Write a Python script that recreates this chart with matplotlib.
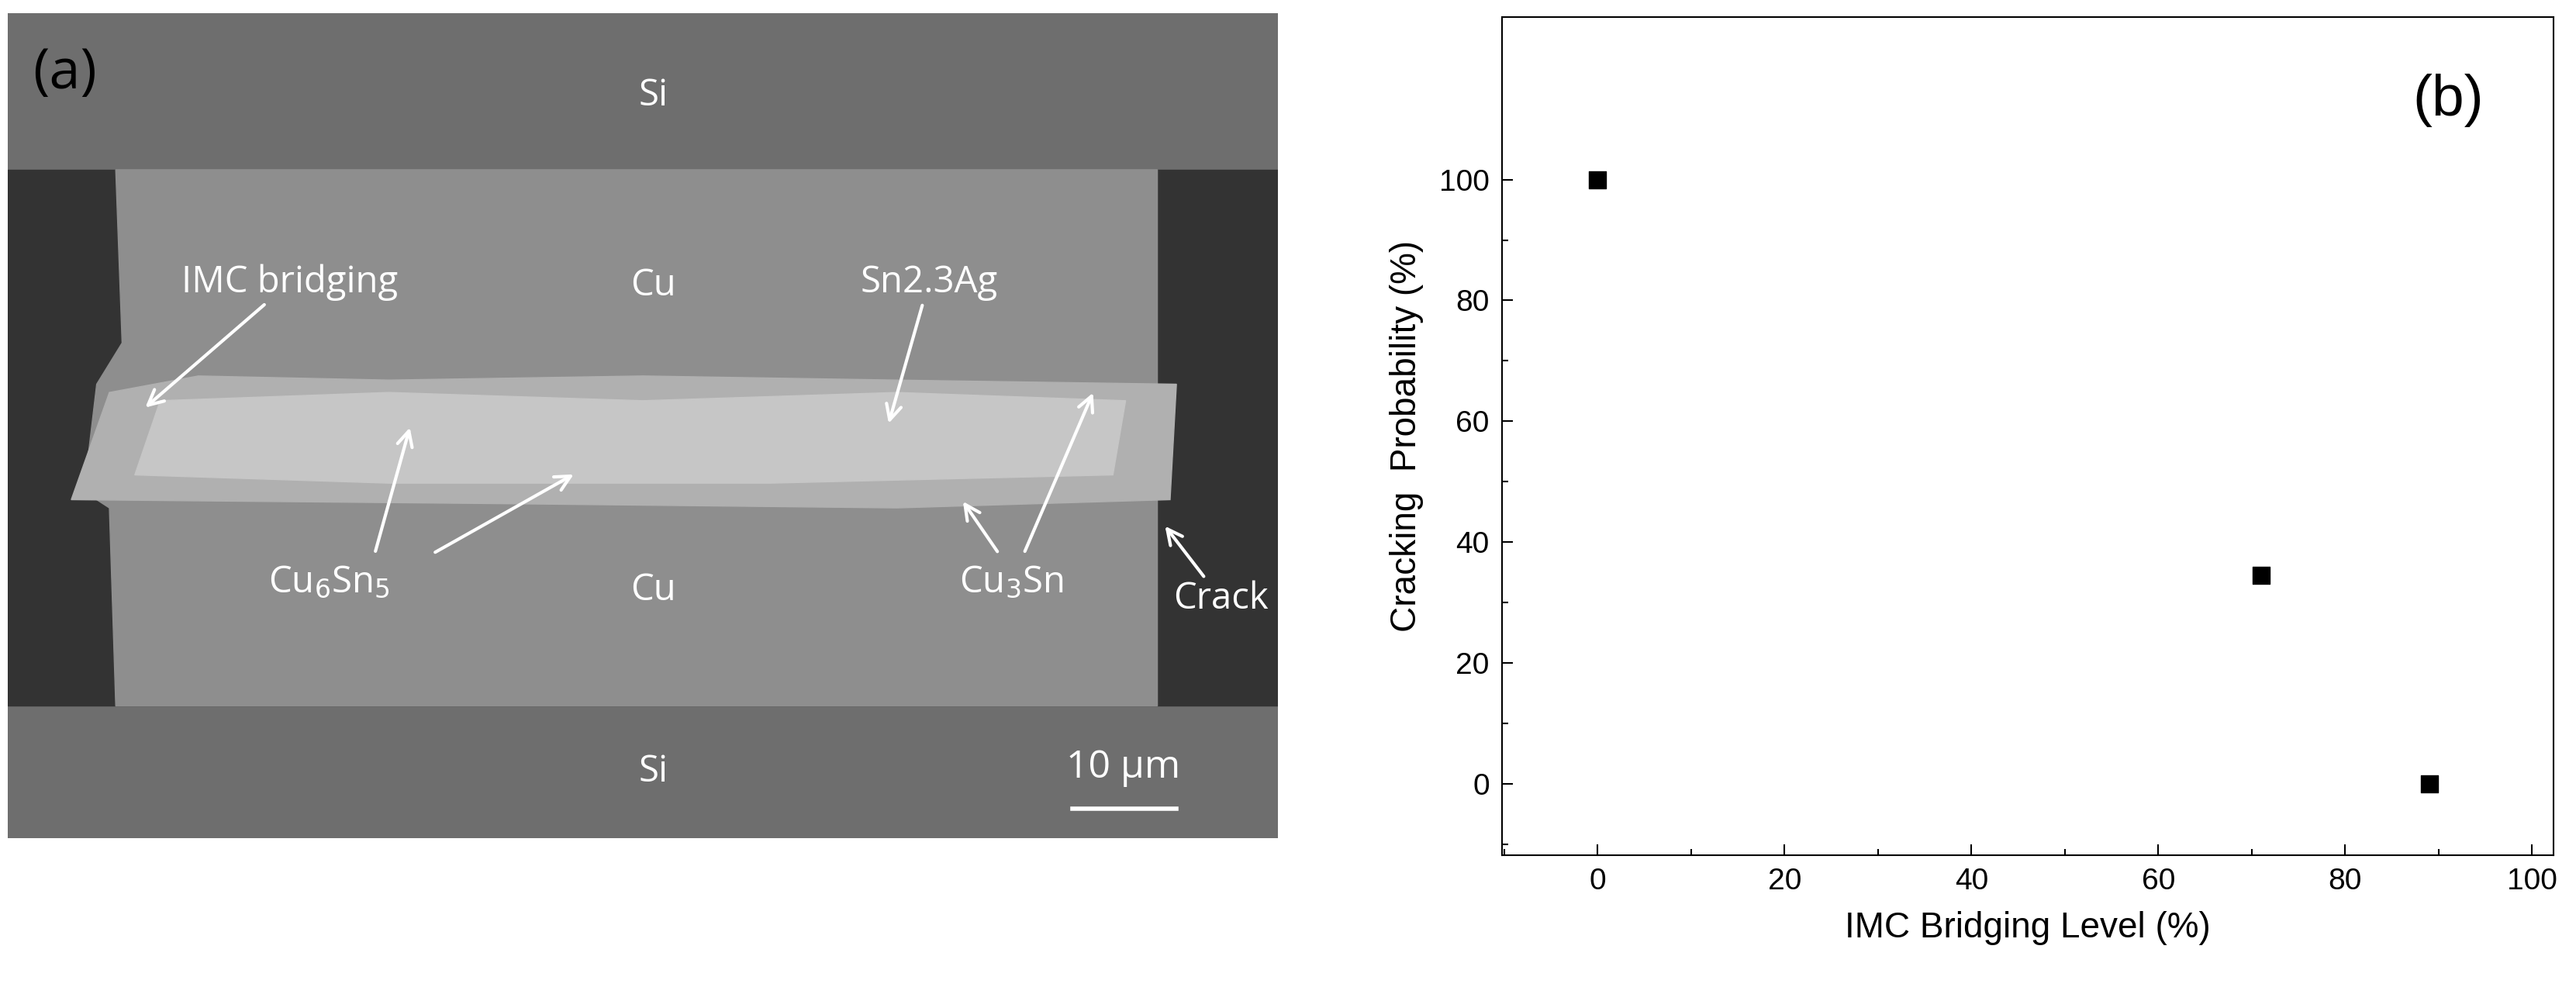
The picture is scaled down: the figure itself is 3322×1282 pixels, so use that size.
import matplotlib
matplotlib.use("Agg")
import matplotlib.pyplot as plt
from matplotlib.patches import Rectangle, Polygon
import numpy as np

bridging_level = [0, 71, 89]
cracking_prob = [100, 34.5, 0]
xticks = [0, 20, 40, 60, 80, 100]
yticks = [0, 20, 40, 60, 80, 100]

plt.rcParams['font.family'] = ['Open Sans', 'DejaVu Sans']
fig = plt.figure(figsize=(33.23, 12.82), dpi=100)

# ---- panel (a): schematic of SEM cross-section ----
axa = fig.add_axes([0.003, 0.157, 0.493, 0.830])
axa.set_xlim(0, 1); axa.set_ylim(1, 0); axa.axis('off')
axa.add_patch(Rectangle((0, 0), 1, 1, color='#4a4a4a'))
axa.add_patch(Rectangle((0, 0), 1, 0.19, color='#6e6e6e'))
axa.add_patch(Rectangle((0, 0.84), 1, 0.16, color='#6e6e6e'))
axa.add_patch(Rectangle((0, 0.19), 1, 0.65, color='#333333'))
axa.add_patch(Polygon([(0.085, 0.19), (0.905, 0.19), (0.905, 0.84), (0.085, 0.84),
                       (0.08, 0.6), (0.06, 0.58), (0.07, 0.45), (0.09, 0.4)], color='#8e8e8e'))
axa.add_patch(Polygon([(0.05, 0.59), (0.08, 0.46), (0.15, 0.44), (0.3, 0.445), (0.5, 0.44),
                       (0.7, 0.445), (0.92, 0.45), (0.915, 0.59), (0.7, 0.6), (0.4, 0.595)],
                      color='#b0b0b0'))
axa.add_patch(Polygon([(0.1, 0.56), (0.12, 0.47), (0.3, 0.46), (0.5, 0.47), (0.7, 0.46),
                       (0.88, 0.47), (0.87, 0.56), (0.6, 0.57), (0.3, 0.57)], color='#c6c6c6'))
tk = dict(color='white', fontsize=34, ha='center', va='center')
axa.text(0.045, 0.074, '(a)', color='black', fontsize=52, ha='center', va='center')
axa.text(0.508, 0.10, 'Si', **tk)
axa.text(0.508, 0.33, 'Cu', **tk)
axa.text(0.508, 0.70, 'Cu', **tk)
axa.text(0.508, 0.92, 'Si', **tk)
ap = dict(arrowstyle='->', color='white', lw=3, mutation_scale=35)
axa.annotate('IMC bridging', xy=(0.107, 0.48), xytext=(0.222, 0.327), arrowprops=ap, **tk)
axa.annotate('Sn2.3Ag', xy=(0.693, 0.5), xytext=(0.725, 0.327), arrowprops=ap, **tk)
axa.text(0.253, 0.69, r'Cu$_6$Sn$_5$', **tk)
axa.annotate('', xy=(0.317, 0.5), xytext=(0.289, 0.655), arrowprops=ap)
axa.annotate('', xy=(0.447, 0.558), xytext=(0.335, 0.655), arrowprops=ap)
axa.text(0.79, 0.69, r'Cu$_3$Sn', **tk)
axa.annotate('', xy=(0.751, 0.59), xytext=(0.78, 0.655), arrowprops=ap)
axa.annotate('', xy=(0.855, 0.458), xytext=(0.80, 0.655), arrowprops=ap)
axa.annotate('Crack', xy=(0.91, 0.62), xytext=(0.955, 0.71), arrowprops=ap, **tk)
axa.text(0.878, 0.915, '10 μm', color='white', fontsize=36, ha='center', va='center')
axa.plot([0.838, 0.92], [0.965, 0.965], color='white', lw=4)

# ---- panel (b) ----
axb = fig.add_axes([0.583, 0.14, 0.408, 0.843])
axb.scatter(bridging_level, cracking_prob, marker='s', s=250, color='black', zorder=3)
axb.set_xlim(-10.2, 102.3)
axb.set_ylim(-11.7, 126.9)
axb.set_xticks(xticks); axb.set_yticks(yticks)
axb.set_xticks(np.arange(-10, 101, 10), minor=True)
axb.set_yticks(np.arange(-10, 101, 10), minor=True)
axb.tick_params(which='both', direction='in', labelsize=28, width=1.5)
axb.tick_params(which='major', length=10, pad=12)
axb.tick_params(which='minor', length=6)
for lab in axb.get_xticklabels() + axb.get_yticklabels():
    lab.set_family(['Liberation Sans', 'DejaVu Sans'])
for s in axb.spines.values():
    s.set_linewidth(1.5)
axb.set_xlabel('IMC Bridging Level (%)', fontsize=33, labelpad=14, family=['Liberation Sans'])
axb.set_ylabel('Cracking  Probability (%)', fontsize=33, labelpad=14, family=['Liberation Sans'])
axb.text(0.9, 0.9, '(b)', transform=axb.transAxes, fontsize=54, ha='center', va='center',
         family=['Liberation Sans'])

fig.savefig('out.png', dpi=100)
